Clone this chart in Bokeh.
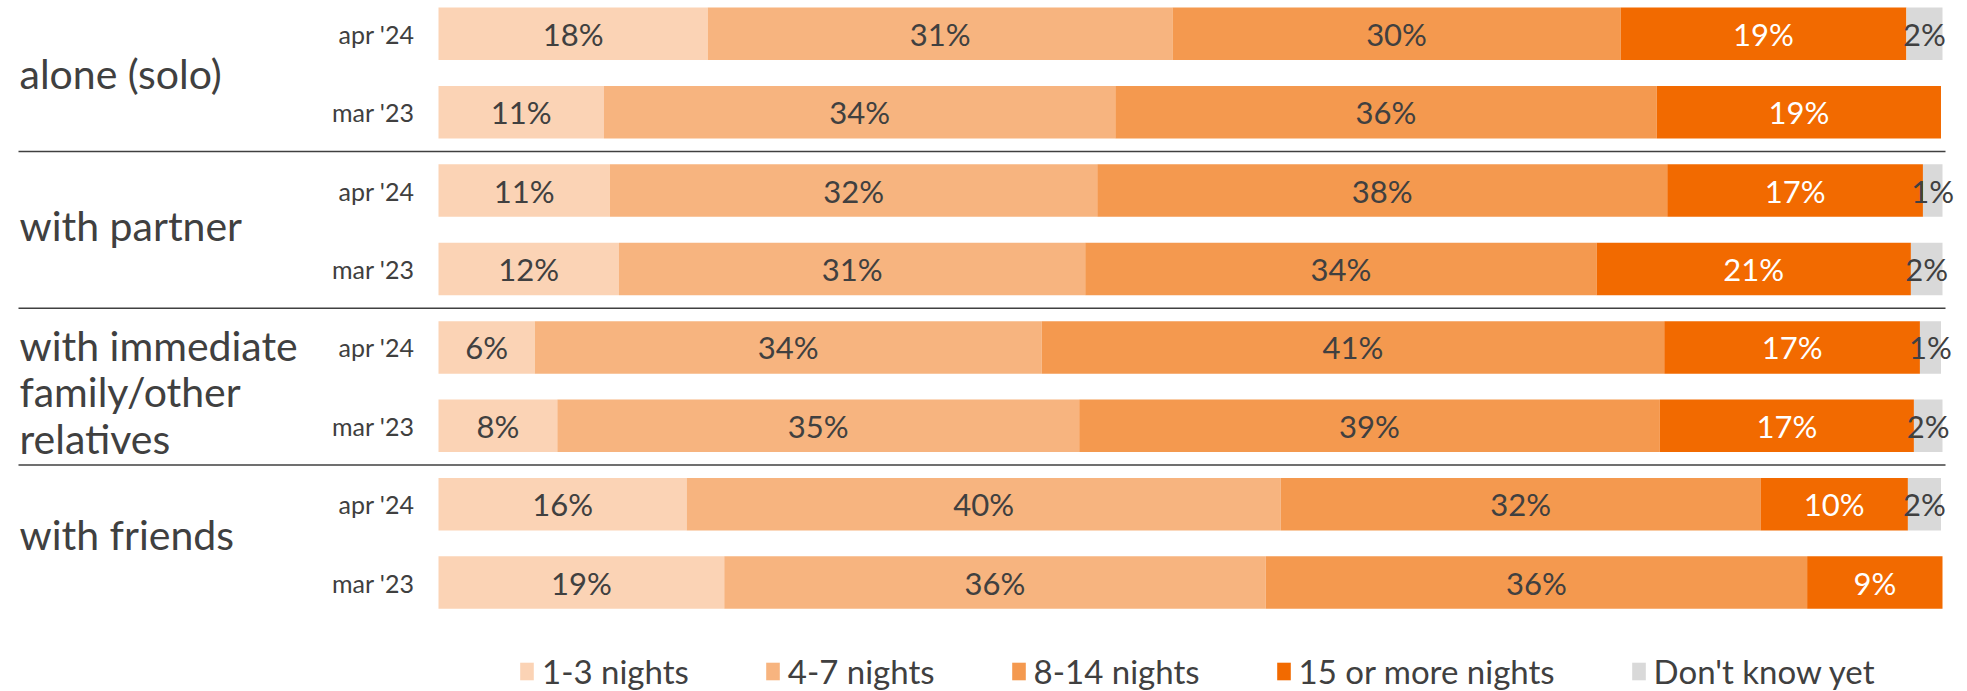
from bokeh.plotting import figure
from bokeh.models import ColumnDataSource, Range1d, Legend, LegendItem
from bokeh.core.properties import value
from bokeh.embed import file_html
from bokeh.resources import INLINE

# ---- data ----
groups = ["alone (solo)", "with partner", "with immediate\nfamily/other\nrelatives", "with friends"]
waves = ["apr '24", "mar '23"]
categories = ["1-3 nights", "4-7 nights", "8-14 nights", "15 or more nights", "Don't know yet"]

n1_3 = [17.9, 11.0, 11.4, 12.0, 6.4, 7.9, 16.5, 19.0]
n4_7 = [30.9, 34.0, 32.4, 31.0, 33.7, 34.7, 39.5, 36.0]
n8_14 = [29.8, 36.0, 37.9, 34.0, 41.4, 38.6, 31.9, 36.0]
n15 = [19.0, 18.9, 17.0, 20.9, 17.0, 16.9, 9.8, 9.0]
dk = [2.4, 0.0, 1.3, 2.1, 1.4, 1.9, 2.2, 0.0]

# ---- style ----
colors = ["#FBD3B5", "#F7B47F", "#F4994F", "#F26A00", "#D9D9D9"]
label_colors = ["#404040", "#404040", "#404040", "#FFFFFF", "#404040"]
FONT = "Lato"
TXT = "#404040"

W, H = 1967, 691
LEFT_PX = 438           # 0% position inside figure
PX_PER_UNIT = 15.04     # pixels per percentage point
ROW_PX = 78.4
TOP_PX = 33.3
GROUP_LABEL_SHIFT = [0, -4, 5, -9]   # fine vertical placement of group labels (px)

series = [n1_3, n4_7, n8_14, n15, dk]
keys = ["c0", "c1", "c2", "c3", "c4"]
nrows = len(n1_3)
ys = list(range(nrows))

src = ColumnDataSource(dict(y=ys, **{k: s for k, s in zip(keys, series)}))

p = figure(width=W, height=H, output_backend="svg", toolbar_location=None,
           x_range=Range1d(-LEFT_PX / PX_PER_UNIT, (W - LEFT_PX) / PX_PER_UNIT),
           y_range=Range1d((H - TOP_PX) / ROW_PX, -TOP_PX / ROW_PX),
           x_axis_location=None, y_axis_location=None, min_border=0)
p.grid.visible = False
p.outline_line_color = None

rs = p.hbar_stack(keys, y="y", height=0.67, color=colors, line_color=None, source=src)

# segment labels
lx, ly, lt, lc = [], [], [], []
for i in range(nrows):
    cum = 0.0
    for j, s in enumerate(series):
        v = s[i]
        if v > 0:
            lx.append(cum + v / 2)
            ly.append(i)
            lt.append(f"{round(v):d}%")
            lc.append(label_colors[j])
        cum += v
p.text(x=lx, y=ly, text=lt, text_color=lc, text_align="center", text_baseline="middle",
       text_font=value(FONT), text_font_size="31px")

# wave labels
wl = [waves[i % 2] for i in range(nrows)]
p.text(x=[0] * nrows, y=ys, text=wl, x_offset=-24, text_align="right", text_baseline="middle",
       text_font=value(FONT), text_font_size="25px", text_color=TXT)

# group labels
gy = [2 * g + 0.5 for g in range(len(groups))]
gsrc = ColumnDataSource(dict(x=[0] * len(groups), y=gy, text=groups, yo=GROUP_LABEL_SHIFT))
p.text(x="x", y="y", text="text", y_offset="yo", x_offset=-419, text_align="left",
       text_baseline="middle", text_font=value(FONT), text_font_size="41px",
       text_color=TXT, text_line_height=0.95, source=gsrc)

# separators
sy = [2 * g + 1.5 for g in range(len(groups) - 1)]
p.segment(x0=[-420 / PX_PER_UNIT] * len(sy), x1=[1507 / PX_PER_UNIT] * len(sy), y0=sy, y1=sy,
          line_color=TXT, line_width=1.5)

legend = Legend(items=[LegendItem(label=c, renderers=[r]) for c, r in zip(categories, rs)],
                orientation="horizontal", location=(518, 0),
                label_text_font=FONT, label_text_font_size="33px", label_text_color=TXT,
                glyph_width=17, glyph_height=22, label_standoff=7, spacing=75,
                padding=0, margin=0, border_line_color=None, background_fill_alpha=0)
p.add_layout(legend)

open("out.html", "w").write(file_html(p, INLINE))
